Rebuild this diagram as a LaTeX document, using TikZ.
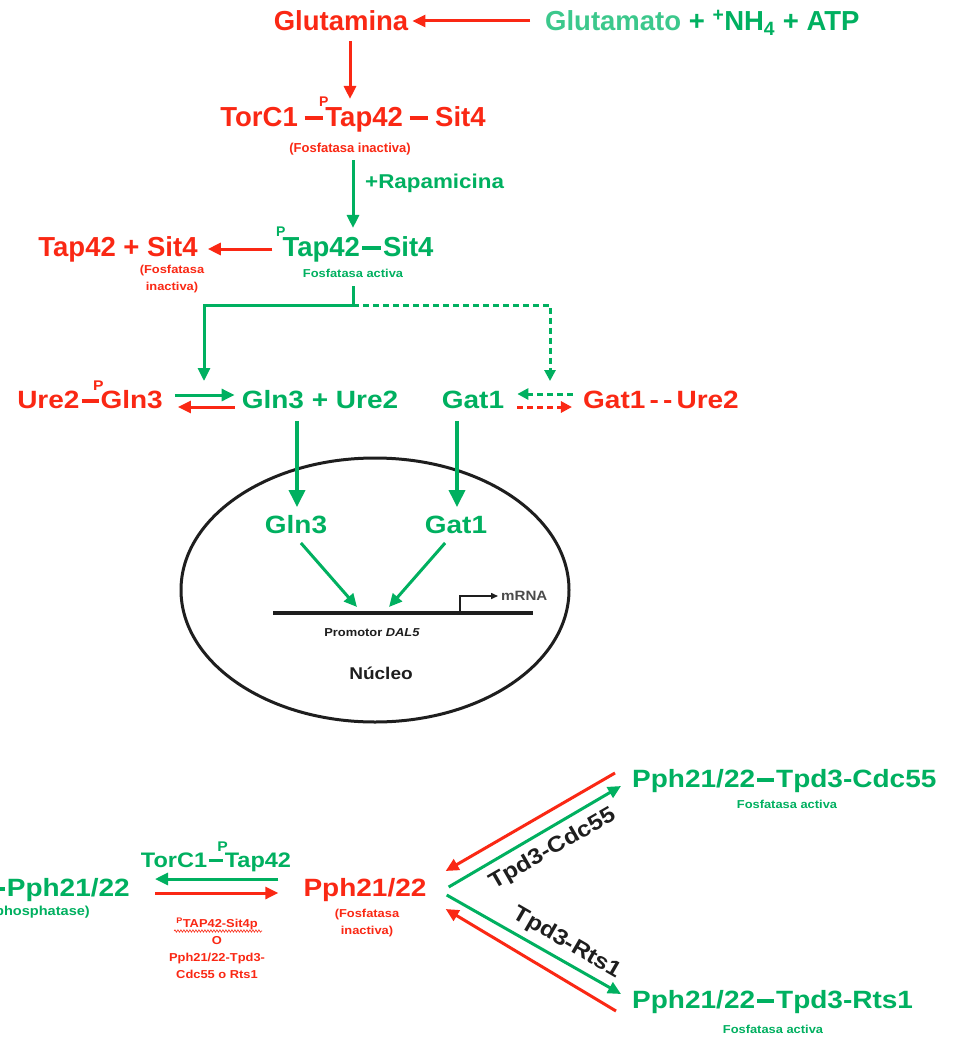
\documentclass[tikz,border=0pt]{standalone}
\usepackage{fontspec}
\setmainfont{Liberation Sans}[FakeStretch=1.12]
\newfontfamily\tallf{Liberation Sans}
\usetikzlibrary{arrows.meta,decorations.pathmorphing,shapes.geometric,calc}
\definecolor{gr}{RGB}{0,176,96}
\definecolor{grl}{RGB}{60,200,140}
\definecolor{rd}{RGB}{250,40,20}
\definecolor{ink}{RGB}{30,30,30}
\newcommand\bnd{\kern0.08em\rule[0.24em]{0.68em}{0.15em}\kern0.08em}
\newcommand\phos{\makebox[0pt][r]{\raisebox{0.75em}{\fontsize{14}{14}\selectfont P}\kern-3pt}}
\tikzset{
  tall/.style={font=\tallf\fontsize{27.5}{30}\selectfont\bfseries, inner sep=0pt, text height=19.7pt, text depth=0pt},
  big/.style={font=\fontsize{25}{28}\selectfont\bfseries, inner sep=0pt, text height=17.5pt, text depth=0pt},
  mid/.style={font=\fontsize{21}{24}\selectfont\bfseries, inner sep=0pt, text height=15pt, text depth=0pt},
  small/.style={font=\fontsize{11.5}{17}\selectfont\bfseries, inner sep=0pt, align=center},
  arr/.style={line width=3pt, -{Triangle[length=13pt,width=12pt]}},
  bigarr/.style={line width=3.5pt, -{Triangle[length=17pt,width=16pt]}},
  darr/.style={line width=3pt, dash pattern=on 6pt off 4pt, -{Triangle[length=11pt,width=11pt]}},
}
\begin{document}
\begin{tikzpicture}[x=1pt,y=-1pt]
\fill[white] (0,0) rectangle (953,1038);
\path[use as bounding box] (0,0) rectangle (953,1038);

% --- top
\node[tall,rd] (glm) at (341,21) {Glutamina};
\node[tall,anchor=west] (gmt) at (545,21) {{\color{grl}Glutamato} {\color{gr}+ \textsuperscript{+}NH\textsubscript{4} + ATP}};
\draw[arr,rd,shorten <=15pt,shorten >=4pt] (gmt.west) -- (glm.east);

\node[tall,rd] (torc) at (353,117) {TorC1\,\bnd\phos Tap42\,\bnd\,Sit4};
\draw[arr,rd,shorten <=10pt,shorten >=8pt] ([xshift=9pt]glm.south) -- ([xshift=9pt]glm.south |- torc.north);
\node[small,rd,font=\tallf\fontsize{13}{17}\selectfont\bfseries] (fi1) at (350,149) {(Fosfatasa inactiva)};

\node[tall,gr] (tap) at (358,247) {\phos Tap42\bnd Sit4};
\draw[arr,gr,shorten <=5pt,shorten >=9pt] (fi1.south -| 353,0) -- (tap.north -| 353,0);
\node[font=\fontsize{20}{22}\selectfont\bfseries, gr, anchor=west, inner sep=0pt] (rap) at (365,183) {+Rapamicina};
\node[small,gr] (fa1) at (353,273) {Fosfatasa activa};

\node[tall,rd] (tps) at (118,247) {Tap42 + Sit4};
\node[small,rd] (fi2) at (172,279) {(Fosfatasa\\inactiva)};
\draw[arr,rd,shorten <=10pt,shorten >=10pt] ([yshift=-2pt]tap.west) -- ([yshift=-2pt]tps.east);

% --- branching
\coordinate (br) at (353,305);
\coordinate (lft) at (204,381);
\coordinate (rgt) at (550,381);
\draw[gr,line width=3pt] (fa1.south) ++(0,9) -- (br);
\draw[arr,gr] (br) -| (lft);
\draw[darr,gr] (br) -| (rgt);

% --- row Ure2/Gln3
\node[big,rd] (ug) at (90,400) {Ure2\bnd\phos Gln3};
\node[big,gr] (gu) at (320,400) {Gln3 + Ure2};
\node[big,gr] (g1) at (473,400) {Gat1};
\node[big,rd] (gu2) at (661,400) {Gat1\,-\,-\,Ure2};
\draw[arr,gr,shorten <=12pt,shorten >=7pt] ([yshift=5pt]ug.east) -- ([yshift=5pt]gu.west);
\draw[arr,rd,shorten <=7pt,shorten >=15pt] ([yshift=-7pt]gu.west) -- ([yshift=-7pt]ug.east);
\draw[darr,gr,shorten <=10pt,shorten >=13pt] ([yshift=6pt]gu2.west) -- ([yshift=6pt]g1.east);
\draw[darr,rd,shorten <=13pt,shorten >=11pt] ([yshift=-7pt]g1.east) -- ([yshift=-7pt]gu2.west);

% --- nucleus
\node[draw=ink, ellipse, line width=3pt, minimum width=388pt, minimum height=264pt, inner sep=0pt] (nuc) at (375,590) {};
\node[big,gr] (gln3in) at (296,525) {Gln3};
\node[big,gr] (gat1in) at (456,525) {Gat1};
\draw[bigarr,gr,shorten <=12pt,shorten >=9pt] ([xshift=-23pt]gu.south) -- ([xshift=-23pt]gu.south |- gln3in.north);
\draw[bigarr,gr,shorten <=12pt,shorten >=9pt] ([xshift=-16pt]g1.south) -- ([xshift=-16pt]g1.south |- gat1in.north);

\coordinate (pl) at (273,613);
\coordinate (pr) at (533,613);
\coordinate (t1) at (357,607);
\coordinate (t2) at (389,607);
\coordinate (tss) at (460,613);
\draw[ink,line width=3.5pt] (pl) -- (pr);
\draw[arr,gr,shorten <=12pt] ([xshift=-3pt]gln3in.south) -- (t1);
\draw[arr,gr,shorten <=12pt] ([xshift=-3pt]gat1in.south) -- (t2);
\node[font=\fontsize{13.5}{14}\selectfont\bfseries, text=ink!80, anchor=west, inner sep=0pt] (mrna) at (501,596) {mRNA};
\draw[ink,line width=1.5pt,-{Triangle[length=7pt,width=6pt]},shorten >=3pt] (tss) |- (mrna.west);
\node[font=\fontsize{11.5}{13}\selectfont\bfseries, text=ink, inner sep=0pt] (promo) at (372,633) {Promotor \textit{DAL5}};
\node[font=\fontsize{17}{19}\selectfont\bfseries, text=ink, inner sep=0pt] (nucl) at (381,673) {Núcleo};

% --- bottom
\node[mid,gr] (tt) at (216,860) {TorC1\bnd\phos Tap42};
\node[big,gr,anchor=east] (pphL) at (130,888) {\bnd Pph21/22};
\node[font=\fontsize{13}{15}\selectfont\bfseries, gr, anchor=east, inner sep=0pt] (phL) at (90,912) {(phosphatase)};
\node[big,rd] (pphR) at (365,888) {Pph21/22};
\node[small,rd] (fi3) at (367,923) {(Fosfatasa\\inactiva)};
\draw[arr,gr,shorten <=25pt,shorten >=25pt] ([yshift=9pt]pphR.west) -- ([yshift=9pt]pphL.east);
\draw[arr,rd,shorten <=25pt,shorten >=25pt] ([yshift=-5pt]pphL.east) -- ([yshift=-5pt]pphR.west);
\node[small,rd] (note) at (217,948) {\textsuperscript{P}TAP42-Sit4p\\O\\Pph21/22-Tpd3-\\Cdc55 o Rts1};
\draw[rd,line width=0.6pt,decorate,decoration={snake,amplitude=1.2pt,segment length=3pt}] (174,931) -- (262,931);

\node[big,gr,anchor=west] (cdc) at (632,779) {Pph21/22\bnd Tpd3-Cdc55};
\node[small,gr] (fa2) at (787,804) {Fosfatasa activa};
\node[big,gr,anchor=west] (rts) at (632,1000) {Pph21/22\bnd Tpd3-Rts1};
\node[small,gr] (fa3) at (773,1029) {Fosfatasa activa};

\draw[arr,rd] ($(cdc.west)+(-17,-6)$) -- ($(pphR.east)+(19,-17)$);
\draw[arr,gr] ($(pphR.east)+(22,-1)$) -- ($(cdc.west)+(-11,7)$);
\draw[arr,gr] ($(pphR.east)+(20,7)$) -- ($(rts.west)+(-11,-6)$);
\draw[arr,rd] ($(rts.west)+(-16,11)$) -- ($(pphR.east)+(19,21)$);

\node[font=\fontsize{22}{24}\selectfont\bfseries, text=ink, rotate=30, inner sep=0pt] (lc) at (553,849) {Tpd3-Cdc55};
\node[font=\fontsize{22}{24}\selectfont\bfseries, text=ink, rotate=-30, inner sep=0pt] (lr) at (567,943) {Tpd3-Rts1};
\end{tikzpicture}
\end{document}
